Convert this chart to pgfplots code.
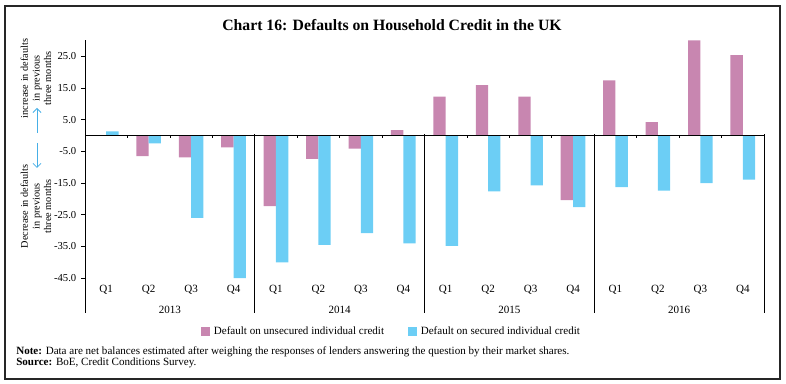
\documentclass[border=0pt]{standalone}
\usepackage{pgfplots}
\pgfplotsset{compat=1.18}
\usepackage{fontspec}
\setmainfont{Liberation Serif}
\usetikzlibrary{arrows.meta}
\definecolor{unsec}{RGB}{200,134,176}
\definecolor{sec}{RGB}{108,206,245}
\definecolor{arrowblue}{RGB}{70,175,230}
\newcommand{\smallf}{\fontsize{8.3}{9.5}\selectfont}
\newcommand{\tickf}{\fontsize{8}{9}\selectfont}
\newcommand{\descf}{\fontsize{7.7}{8.7}\selectfont}
\begin{document}
\begin{tikzpicture}[x=0.75pt,y=0.75pt]
\path (0,0) rectangle (786,384);
\draw[line width=0.9pt, black!85] (5,5) rectangle (780,378);
\node[font=\bfseries\fontsize{11.8}{14}\selectfont] at (392,359) {Chart 16: Defaults on Household Credit in the UK};
\begin{axis}[
  at={(63.75pt,53.25pt)}, anchor=south west,
  scale only axis, width=509.25pt, height=204.4pt,
  xmin=-0.5, xmax=15.5, ymin=-56, ymax=30,
  axis y line*=left, axis x line=none,
  ybar=0pt, bar width=0.29,
  ytick={-45,-35,-25,-15,-5,5,15,25},
  yticklabels={-45.0,-35.0,-25.0,-15.0,-5.0,5.0,15.0,25.0},
  tick align=outside, major tick length=3pt,
  ytick style={black, line width=0.5pt},
  yticklabel style={font=\tickf},
  y axis line style={black, line width=0.6pt},
  clip=false,
  legend columns=2,
  legend style={at={(0.452,-0.07)}, anchor=center, draw=none, fill=none,
    font=\smallf,
    /tikz/every odd column/.append style={column sep=1pt},
    /tikz/every even column/.append style={column sep=16pt}},
  legend image code/.code={\fill[#1] (0pt,-3.2pt) rectangle (6.5pt,3.8pt);},
]
\addplot[fill=unsec, draw=none] coordinates {
 (0,0) (1,-6.5) (2,-6.9) (3,-3.7)
 (4,-22.3) (5,-7.4) (6,-4.1) (7,1.7)
 (8,12.3) (9,15.9) (10,12.3) (11,-20.4)
 (12,17.4) (13,4.2) (14,30.0) (15,25.4)};
\addplot[fill=sec, draw=none] coordinates {
 (0,1.3) (1,-2.5) (2,-26.0) (3,-45.0)
 (4,-40.0) (5,-34.5) (6,-30.8) (7,-34.0)
 (8,-34.8) (9,-17.6) (10,-15.7) (11,-22.6)
 (12,-16.3) (13,-17.4) (14,-15.0) (15,-13.9)};
\legend{Default on unsecured individual credit, Default on secured individual credit}
\draw[black, line width=0.6pt] (axis cs:-0.5,0) -- (axis cs:15.5,0);
\pgfplotsinvokeforeach{3.5,7.5,11.5,15.5}{\draw[black, line width=0.6pt] (axis cs:#1,0.4) -- (axis cs:#1,-56);}
\pgfplotsinvokeforeach{0.5,1.5,2.5,4.5,5.5,6.5,8.5,9.5,10.5,12.5,13.5,14.5}{\draw[black, line width=0.5pt] (axis cs:#1,0) -- (axis cs:#1,-0.9);}
\pgfplotsinvokeforeach{0,4,8,12}{\node[font=\smallf] at (axis cs:#1,-48.6) {Q1};}
\pgfplotsinvokeforeach{1,5,9,13}{\node[font=\smallf] at (axis cs:#1,-48.6) {Q2};}
\pgfplotsinvokeforeach{2,6,10,14}{\node[font=\smallf] at (axis cs:#1,-48.6) {Q3};}
\pgfplotsinvokeforeach{3,7,11,15}{\node[font=\smallf] at (axis cs:#1,-48.6) {Q4};}
\node[font=\smallf] at (axis cs:1.5,-54.9) {2013};
\node[font=\smallf] at (axis cs:5.5,-54.9) {2014};
\node[font=\smallf] at (axis cs:9.5,-54.9) {2015};
\node[font=\smallf] at (axis cs:13.5,-54.9) {2016};
\end{axis}
\node[rotate=90, align=center, font=\descf] at (36,305.5) {increase in defaults\\in previous\\three months};
\node[rotate=90, align=center, font=\descf] at (36,177.5) {Decrease in defaults\\in previous\\three months};
\draw[arrowblue, line width=0.6pt, -{Straight Barb[length=3pt,width=6pt]}] (37,251) -- (37,276);
\draw[arrowblue, line width=0.6pt, -{Straight Barb[length=3pt,width=6pt]}] (37,241) -- (37,216);
\node[anchor=base west, font=\smallf, inner sep=0pt] at (16,29.5) {\textbf{Note:} Data are net balances estimated after weighing the responses of lenders answering the question by their market shares.};
\node[anchor=base west, font=\smallf, inner sep=0pt] at (16,18) {\textbf{Source:} BoE, Credit Conditions Survey.};
\end{tikzpicture}
\end{document}
